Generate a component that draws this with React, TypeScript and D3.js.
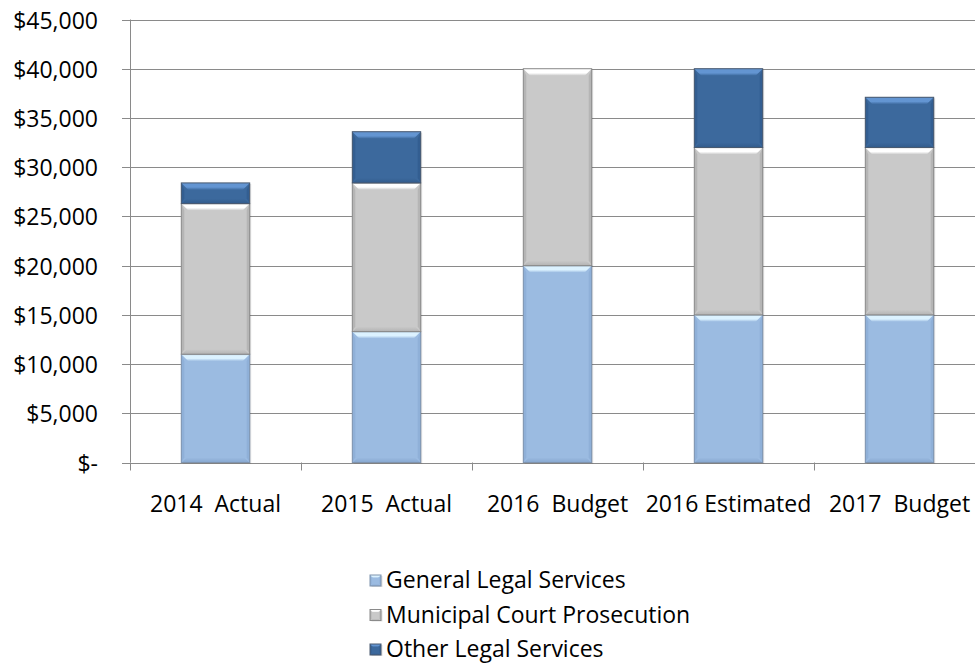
import React from "react";
import * as d3 from "d3";

const categories = ["2014  Actual", "2015  Actual", "2016  Budget", "2016 Estimated", "2017  Budget"];
const seriesNames = ["General Legal Services", "Municipal Court Prosecution", "Other Legal Services"];
const generalLegal = [11000, 13300, 20000, 15000, 15000];
const municipalCourt = [15300, 15100, 20000, 17000, 17000];
const otherLegal = [2100, 5200, 0, 8000, 5100];
const yTicks = [0, 5000, 10000, 15000, 20000, 25000, 30000, 35000, 40000, 45000];

const W = 975;
const H = 663;
const FONT = "'Open Sans', sans-serif";

const palettes = [
  { id: "g", base: "#9bbbe1", top: "#dcf2ff", bottom: "#87a7cf", side: "#8fb0d8", stroke: "#7f93ad" },
  { id: "m", base: "#c9c9c9", top: "#ffffff", bottom: "#b3b3b3", side: "#b5b5b5", stroke: "#8a8a8a" },
  { id: "o", base: "#3c699d", top: "#6395d2", bottom: "#335c8c", side: "#335e91", stroke: "#4a5a70" },
];

function Bevel({ x, y, w, h, p, b = 7, bb = 5, s = 3 }: any) {
  if (h <= 0) return null;
  const t = Math.min(b, h / 2);
  const u = Math.min(bb, h / 2);
  const x0 = x, x1 = x + w, y0 = y, y1 = y + h;
  const pts = (a: number[][]) => a.map((q) => q.join(",")).join(" ");
  return (
    <g>
      <rect x={x0 + 1.5} y={y0 + 1} width={w} height={h} fill="#000" opacity={0.12} />
      <rect x={x0} y={y0} width={w} height={h} fill={p.base} />
      <polygon points={pts([[x0, y0], [x0 + s, y0 + t], [x0 + s, y1 - u], [x0, y1]])} fill={p.side} />
      <polygon points={pts([[x1, y0], [x1 - s, y0 + t], [x1 - s, y1 - u], [x1, y1]])} fill={p.side} />
      <polygon points={pts([[x0, y1], [x1, y1], [x1 - s * 2, y1 - u], [x0 + s * 2, y1 - u]])} fill={`url(#bot-${p.id})`} />
      <polygon points={pts([[x0, y0], [x1, y0], [x1 - t, y0 + t], [x0 + t, y0 + t]])} fill={`url(#top-${p.id})`} />
      <rect x={x0} y={y0} width={w} height={h} fill="none" stroke={p.stroke} strokeWidth={1} />
    </g>
  );
}

export default function App() {
  const x = d3.scaleBand<string>().domain(categories).range([130, 985]).paddingInner(0.6).paddingOuter(0.3);
  const xc = d3.scaleBand<string>().domain(categories).range([130, 985]).padding(0);
  const y = d3.scaleLinear().domain([0, 45000]).range([462.5, 19.5]);
  const series = [generalLegal, municipalCourt, otherLegal];
  const fmt = (v: number) => (v === 0 ? "$-" : "$" + d3.format(",")(v));

  const segs: any[] = [];
  categories.forEach((c, i) => {
    let acc = 0;
    series.forEach((s, k) => {
      const v = s[i];
      const yTop = y(acc + v);
      const yBot = y(acc);
      segs.push({ key: c + k, x: x(c)!, y: yTop, w: x.bandwidth(), h: yBot - yTop, p: palettes[k] });
      acc += v;
    });
  });

  const legendBaselines = [588, 622.5, 657];

  return (
    <svg width={W} height={H} style={{ position: "absolute", left: 0, top: 0, background: "#fff" }} fontFamily={FONT}>
      <defs>
        {palettes.map((p) => (
          <React.Fragment key={p.id}>
            <linearGradient id={`top-${p.id}`} x1="0" y1="0" x2="0" y2="1">
              <stop offset="0" stopColor={p.top} />
              <stop offset="0.6" stopColor={p.top} />
              <stop offset="1" stopColor={p.base} />
            </linearGradient>
            <linearGradient id={`bot-${p.id}`} x1="0" y1="0" x2="0" y2="1">
              <stop offset="0" stopColor={p.base} />
              <stop offset="1" stopColor={p.bottom} />
            </linearGradient>
          </React.Fragment>
        ))}
      </defs>
      <rect x={0} y={0} width={W} height={H} fill="#fff" />
      {yTicks.map((t) => (
        <g key={t}>
          <line x1={122} x2={975} y1={Math.round(y(t)) + 0.5} y2={Math.round(y(t)) + 0.5} stroke="#8a8a8a" strokeWidth={1} />
          <text x={98} y={Math.round(y(t)) + 8.5} textAnchor="end" fontSize={23} fill="#000">{fmt(t)}</text>
        </g>
      ))}
      <line x1={130.5} x2={130.5} y1={y(45000)} y2={y(0)} stroke="#8a8a8a" strokeWidth={1} />
      {[...categories.map((c) => xc(c)!), 985].map((px, i) => (
        <line key={i} x1={Math.round(px) + 0.5} x2={Math.round(px) + 0.5} y1={y(0)} y2={y(0) + 8} stroke="#8a8a8a" strokeWidth={1} />
      ))}
      {segs.map((s) => (
        <Bevel key={s.key} x={s.x} y={s.y} w={s.w} h={s.h} p={s.p} />
      ))}
      {categories.map((c) => (
        <text key={c} x={xc(c)! + xc.bandwidth() / 2} y={512} textAnchor="middle" fontSize={23} fill="#000" style={{ whiteSpace: "pre" }}>
          {c}
        </text>
      ))}
      {seriesNames.map((n, k) => (
        <g key={n}>
          <Bevel x={370} y={legendBaselines[k] - 13} w={11} h={11} p={palettes[k]} b={3} bb={2} s={1.5} />
          <text x={386} y={legendBaselines[k]} fontSize={23} fill="#000">{n}</text>
        </g>
      ))}
    </svg>
  );
}
